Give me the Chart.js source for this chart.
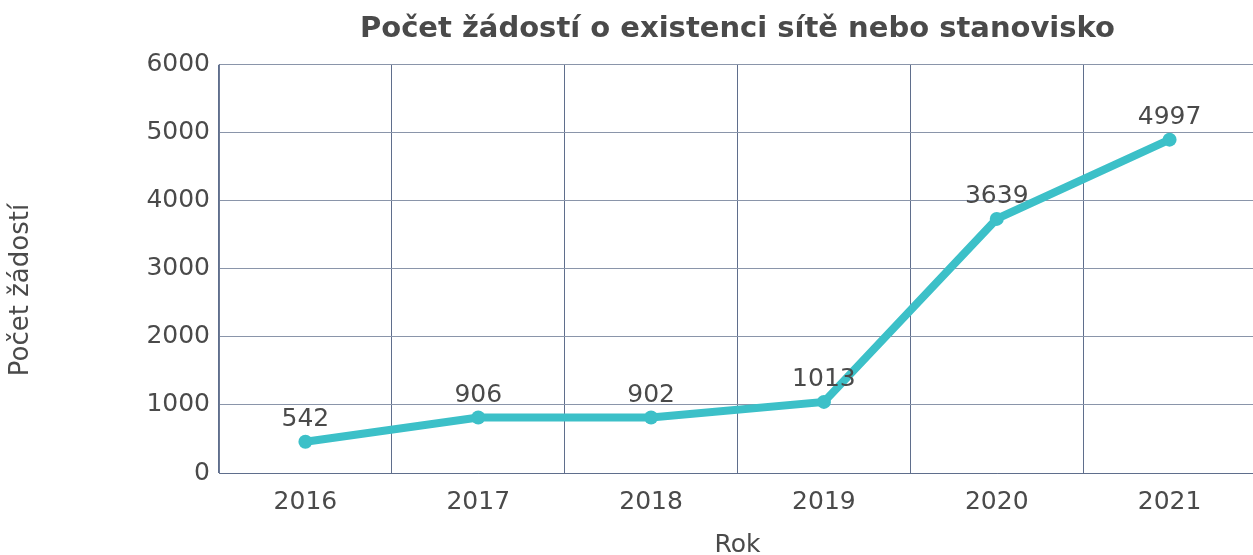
<!DOCTYPE html>
<html lang="cs">
<head>
    <meta charset="UTF-8">
    <title>Počet žádostí o existenci sítě nebo stanovisko</title>
    <script src="https://cdn.jsdelivr.net/npm/chart.js@4/dist/chart.umd.min.js"></script>
    <style>
        html, body { margin: 0; padding: 0; background: #fff; overflow: hidden; }
    </style>
</head>
<body>
<canvas id="myChart" width="1263" height="555"></canvas>
<script>

    const years = ["2016", "2017", "2018", "2019", "2020", "2021"];
    // where the points sit on the y axis in the picture
    const plotValues = [460, 815, 815, 1045, 3735, 4900];
    // numbers printed above the points
    const labelValues = [542, 906, 902, 1013, 3639, 4997];
    const yTicks = [0, 1000, 2000, 3000, 4000, 5000, 6000];

    const textColor = "#4a4a4a";
    const fontFamily = "'DejaVu Sans', sans-serif";

    const pointLabels = {
        id: "pointLabels",
        afterDatasetsDraw(chart) {
            const ctx = chart.ctx;
            const meta = chart.getDatasetMeta(0);
            ctx.save();
            ctx.font = "25px " + fontFamily;
            ctx.fillStyle = textColor;
            ctx.textAlign = "center";
            ctx.textBaseline = "middle";
            meta.data.forEach((pt, i) => {
                ctx.fillText(String(labelValues[i]), pt.x, pt.y - 22);
            });
            ctx.restore();
        }
    };

    // y axis title sits a bit below the middle of the plot in the original
    const yTitle = {
        id: "yTitle",
        afterDraw(chart) {
            const ctx = chart.ctx;
            ctx.save();
            ctx.translate(21, 290);
            ctx.rotate(-Math.PI / 2);
            ctx.font = "26px " + fontFamily;
            ctx.fillStyle = textColor;
            ctx.textAlign = "center";
            ctx.textBaseline = "middle";
            ctx.fillText("Počet žádostí", 0, 0);
            ctx.restore();
        }
    };

    const myChart = new Chart("myChart", {
        type: "line",
        data: {
            labels: years,
            datasets: [{
                data: plotValues,
                borderColor: "#3cc0c8",
                backgroundColor: "#3cc0c8",
                borderWidth: 8,
                pointRadius: 7,
                pointHoverRadius: 7,
                pointBorderWidth: 0,
                tension: 0
            }]
        },
        options: {
            responsive: false,
            animation: false,
            layout: { padding: { left: 0, top: 0, bottom: 0, right: -6 } },
            plugins: {
                legend: { display: false },
                tooltip: { enabled: false },
                title: {
                    display: true,
                    fullSize: false,
                    text: "Počet žádostí o existenci sítě nebo stanovisko",
                    color: textColor,
                    font: { family: fontFamily, size: 29, weight: "bold", lineHeight: 1.2 },
                    padding: { top: 12, bottom: 18 }
                }
            },
            scales: {
                x: {
                    offset: true,
                    grid: { offset: true, color: "#5f6e8c", drawTicks: false },
                    border: { color: "#5f6e8c" },
                    ticks: {
                        color: textColor,
                        padding: 14,
                        font: { family: fontFamily, size: 25 }
                    },
                    title: {
                        display: true,
                        text: "Rok",
                        color: textColor,
                        font: { family: fontFamily, size: 25, lineHeight: 1 },
                        padding: { top: 0, bottom: -3 }
                    },
                    afterFit(scale) { scale.height = 82; }
                },
                y: {
                    min: 0,
                    max: 6000,
                    afterBuildTicks(scale) {
                        scale.ticks = yTicks.map(v => ({ value: v }));
                    },
                    grid: { color: "#8a95aa", drawTicks: false },
                    border: { color: "#6d7a96" },
                    ticks: {
                        color: textColor,
                        padding: 9,
                        font: { family: fontFamily, size: 25 },
                        callback: v => String(v)
                    },
                    afterFit(scale) { scale.width = 219; }
                }
            }
        },
        plugins: [pointLabels, yTitle]
    });
</script>
</body>
</html>
